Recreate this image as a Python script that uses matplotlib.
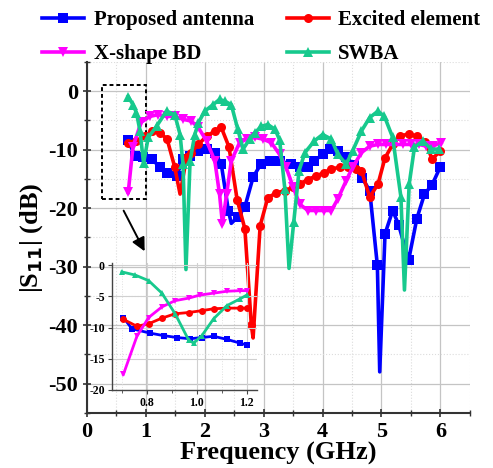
import matplotlib
matplotlib.use("Agg")
import matplotlib.pyplot as plt
from matplotlib.ticker import MultipleLocator
from matplotlib.patches import Rectangle

plt.rcParams['font.family'] = ['Liberation Serif', 'DejaVu Serif']
plt.rcParams['font.weight'] = 'bold'
plt.rcParams['axes.unicode_minus'] = False

# ---------------- data (main plot) ----------------
prop_f = [0.7, 0.81, 0.95, 1.1, 1.24, 1.36, 1.52, 1.63, 1.75, 1.89, 2.03, 2.17, 2.28, 2.4, 2.45, 2.56, 2.68,
          2.82, 2.95, 3.1, 3.27, 3.47, 3.61, 3.75, 3.86, 4.0, 4.12, 4.27, 4.4, 4.54, 4.67, 4.8, 4.93, 4.97,
          5.06, 5.19, 5.29, 5.46, 5.6, 5.73, 5.86, 6.0]
prop_s = [-8.4, -11.0, -11.3, -11.6, -13.0, -13.9, -14.5, -11.6, -11.0, -10.2, -9.9, -10.5, -12.5, -20.4, -22.6,
          -21.5, -19.8, -14.7, -12.5, -11.9, -11.9, -12.5, -13.0, -13.0, -11.9, -10.8, -9.9, -10.3, -11.2, -12.7,
          -14.8, -17.0, -29.8, -48.0, -24.4, -20.4, -22.8, -28.9, -21.8, -17.6, -16.0, -12.9]
prop_dips = [14, 33]

exc_f = [0.7, 0.84, 0.98, 1.1, 1.24, 1.36, 1.49, 1.58, 1.69, 1.77, 1.89, 2.03, 2.17, 2.28, 2.41, 2.55, 2.68,
         2.79, 2.82, 2.94, 3.07, 3.21, 3.36, 3.5, 3.61, 3.75, 3.89, 4.03, 4.15, 4.29, 4.43, 4.57, 4.66, 4.8,
         4.94, 5.06, 5.19, 5.31, 5.46, 5.6, 5.74, 5.86, 6.0]
exc_s = [-8.8, -8.5, -7.7, -6.8, -7.1, -8.2, -13.0, -17.6, -11.3, -10.5, -9.1, -7.7, -6.8, -6.2, -9.5, -18.6,
         -23.5, -40.0, -42.2, -23.0, -18.2, -17.4, -17.0, -16.4, -15.9, -15.1, -14.5, -13.9, -13.3, -13.0,
         -13.0, -13.3, -13.6, -18.1, -15.9, -11.4, -9.1, -7.7, -7.3, -7.7, -8.6, -11.6, -10.2]
exc_dips = [7, 18]

xbd_f = [0.7, 0.78, 0.92, 1.07, 1.21, 1.35, 1.49, 1.63, 1.77, 1.89, 2.03, 2.17, 2.25, 2.3, 2.37, 2.45, 2.59,
         2.71, 2.85, 2.99, 3.13, 3.27, 3.38, 3.5, 3.61, 3.75, 3.89, 4.03, 4.15, 4.26, 4.4, 4.51, 4.66, 4.8,
         4.94, 5.08, 5.22, 5.36, 5.5, 5.64, 5.76, 5.87, 6.01]
xbd_s = [-17.3, -9.5, -5.3, -4.3, -4.0, -4.3, -4.3, -4.8, -5.1, -6.2, -8.5, -11.9, -17.6, -22.7, -17.6, -11.9,
         -8.8, -8.2, -7.9, -8.2, -8.8, -10.8, -13.0, -16.4, -19.3, -20.4, -20.4, -20.4, -20.4, -18.4, -15.3,
         -13.0, -10.5, -9.4, -9.1, -9.1, -9.1, -9.1, -9.1, -9.1, -9.4, -9.4, -8.8]
xbd_dips = []

swba_f = [0.7, 0.78, 0.84, 0.9, 0.96, 1.04, 1.18, 1.35, 1.49, 1.58, 1.63, 1.68, 1.75, 1.83, 1.89, 2.0, 2.14,
          2.25, 2.34, 2.45, 2.56, 2.65, 2.76, 2.85, 2.96, 3.07, 3.19, 3.27, 3.36, 3.43, 3.51, 3.6, 3.7, 3.86,
          4.0, 4.15, 4.26, 4.4, 4.51, 4.66, 4.8, 4.94, 5.05, 5.19, 5.33, 5.39, 5.47, 5.56, 5.7, 5.84, 5.98]
swba_s = [-0.9, -2.3, -3.7, -6.8, -12.3, -7.9, -6.0, -3.4, -4.0, -7.4, -12.5, -30.5, -11.9, -7.4, -5.4, -3.4,
          -2.3, -1.4, -1.7, -2.3, -6.5, -9.9, -8.2, -7.1, -6.0, -5.7, -6.5, -8.3, -16.8, -30.3, -22.4, -13.6,
          -10.5, -8.5, -7.4, -8.2, -10.8, -12.5, -10.2, -6.8, -4.5, -3.4, -4.3, -7.9, -18.1, -34.0, -15.9,
          -9.6, -8.5, -9.9, -9.9]
swba_dips = [11, 29, 45]

# ---------------- data (inset, 0.7-1.2 GHz) ----------------
in_prop_f = [0.706, 0.74, 0.813, 0.867, 0.92, 0.973, 1.02, 1.067, 1.12, 1.173, 1.2]
in_prop_s = [-8.4, -10.2, -10.9, -11.3, -11.6, -11.8, -11.6, -11.4, -11.9, -12.5, -12.8]
in_exc_f = [0.706, 0.76, 0.807, 0.86, 0.913, 0.967, 1.02, 1.067, 1.12, 1.173, 1.2]
in_exc_s = [-8.7, -9.8, -9.4, -8.5, -7.8, -7.6, -7.3, -7.0, -6.9, -6.9, -6.9]
in_xbd_f = [0.706, 0.76, 0.807, 0.86, 0.913, 0.967, 1.013, 1.067, 1.12, 1.173, 1.2]
in_xbd_s = [-17.5, -11.4, -8.4, -6.7, -5.7, -5.3, -4.8, -4.5, -4.2, -4.1, -4.1]
in_swba_f = [0.7, 0.753, 0.807, 0.86, 0.913, 0.967, 0.987, 1.02, 1.067, 1.12, 1.173, 1.2]
in_swba_s = [-1.1, -1.6, -2.5, -4.5, -7.8, -12.0, -12.5, -11.3, -8.6, -6.5, -5.4, -4.8]

labels = ['Proposed antenna', 'Excited element', 'X-shape BD', 'SWBA']
colors = ['#0000ff', '#ff0000', '#ff00ff', '#17c98d']
markers = ['s', 'o', 'v', '^']

main_data = [(prop_f, prop_s, prop_dips), (exc_f, exc_s, exc_dips),
             (xbd_f, xbd_s, xbd_dips), (swba_f, swba_s, swba_dips)]
inset_data = [(in_prop_f, in_prop_s), (in_exc_f, in_exc_s),
              (in_xbd_f, in_xbd_s), (in_swba_f, in_swba_s)]

fig = plt.figure(figsize=(4.93, 4.68), dpi=100)
ax = fig.add_axes([0.1765, 0.118, 0.7765, 0.7495])

handles = []
for (f, s, dips), lab, c, m in zip(main_data, labels, colors, markers):
    mk = [i for i in range(len(f)) if i not in dips]
    h, = ax.plot(f, s, color=c, lw=2.6, marker=m, markersize=6.5, markevery=mk, label=lab,
                 markeredgewidth=0)
    handles.append(h)

ax.set_xlim(0, 6.5)
ax.set_ylim(-55, 5)
ax.xaxis.set_major_locator(MultipleLocator(1))
ax.xaxis.set_minor_locator(MultipleLocator(0.5))
ax.yaxis.set_major_locator(MultipleLocator(10))
ax.yaxis.set_minor_locator(MultipleLocator(5))
ax.grid(which='major', color='#c4c4c4', lw=0.9, ls='-')
ax.grid(which='minor', color='#dcdcdc', lw=0.8, ls=':')
ax.set_axisbelow(True)
for sp in ['top', 'right']:
    ax.spines[sp].set_visible(False)
for sp in ['left', 'bottom']:
    ax.spines[sp].set_color('#333333')
    ax.spines[sp].set_linewidth(1.5)
ax.tick_params(which='major', direction='inout', length=6, width=1.2, labelsize=16, colors='#333333',
               labelcolor='black')
ax.tick_params(which='minor', direction='inout', length=4, width=1.0, colors='#333333')
for t in ax.get_xticklabels() + ax.get_yticklabels():
    t.set_fontweight('bold')
ax.set_xlabel('Frequency (GHz)', fontsize=19, fontweight='bold', labelpad=0)
ax.set_ylabel('|S$_{\\mathbf{11}}$| (dB)', fontsize=19, fontweight='bold', labelpad=2)

# dotted zoom rectangle and arrow
ax.add_patch(Rectangle((0.25, -18.4), 0.75, 19.4, fill=False, ls=(0, (2, 1.5)), lw=1.4, color='black'))
ax.annotate('', xy=(1.0, -27.8), xytext=(0.6, -20.0),
            arrowprops=dict(arrowstyle='-|>', color='black', lw=1.4, mutation_scale=20))

# legend
leg = fig.legend([handles[0], handles[2], handles[1], handles[3]],
                 [labels[0], labels[2], labels[1], labels[3]],
                 ncol=2, loc='upper left', bbox_to_anchor=(0.065, 1.0), frameon=False,
                 prop={'family': 'Liberation Serif', 'weight': 'bold', 'size': 15},
                 handlelength=2.0, handletextpad=0.45, columnspacing=1.6, labelspacing=0.65,
                 borderaxespad=0.1)

# inset
axi = fig.add_axes([0.227, 0.1667, 0.294, 0.271])
axi.patch.set_alpha(0)
for (f, s), c, m in zip(inset_data, colors, markers):
    axi.plot(f, s, color=c, lw=2.0, marker=m, markersize=5, markeredgewidth=0)
axi.set_xlim(0.66, 1.24)
axi.set_ylim(-20, 0.3)
axi.xaxis.set_minor_locator(MultipleLocator(0.1))
axi.yaxis.set_major_locator(MultipleLocator(5))
axi.set_xticks([0.8, 1.0, 1.2])
axi.grid(which='major', color='#d0d0d0', lw=0.8, ls='-')
axi.grid(which='minor', color='#e0e0e0', lw=0.7, ls=':')
axi.set_axisbelow(True)
for sp in ['top', 'right']:
    axi.spines[sp].set_visible(False)
for sp in ['left', 'bottom']:
    axi.spines[sp].set_color('#444444')
    axi.spines[sp].set_linewidth(1.0)
axi.tick_params(which='major', direction='out', length=3, width=0.8, labelsize=8.5, pad=2,
                colors='#444444', labelcolor='black')
axi.tick_params(which='minor', direction='out', length=2, width=0.6, colors='#444444')
axi.xaxis.set_major_formatter(matplotlib.ticker.FormatStrFormatter('%.1f'))
for t in axi.get_xticklabels() + axi.get_yticklabels():
    t.set_fontweight('bold')

fig.savefig('out.png', dpi=100)
